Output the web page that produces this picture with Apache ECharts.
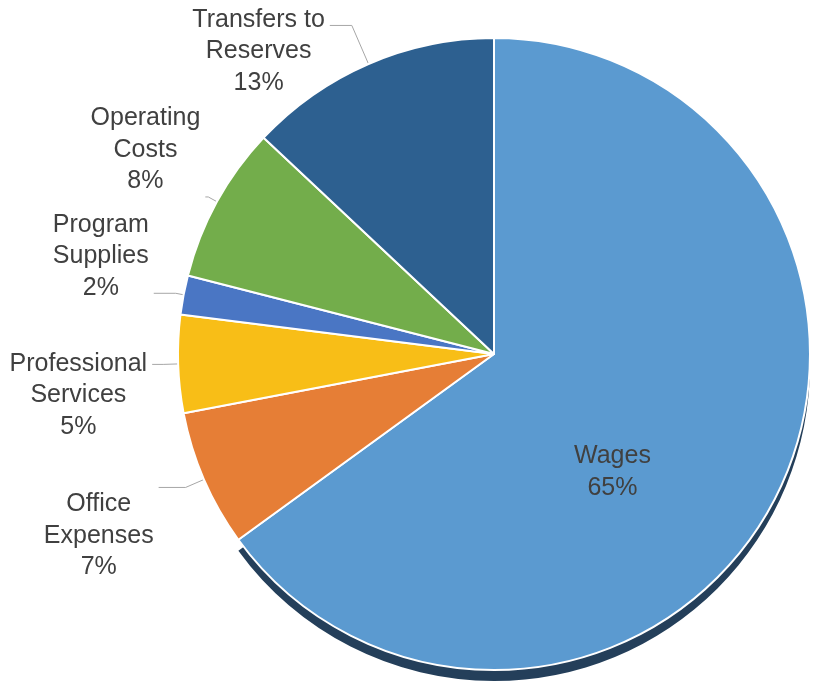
<!DOCTYPE html>
<html>
<head>
<meta charset="utf-8">
<script src="https://cdn.jsdelivr.net/npm/echarts@6/dist/echarts.min.js"></script>
<style>
  html, body { margin: 0; padding: 0; background: #fff; }
  #chart { width: 824px; height: 687px; }
</style>
</head>
<body>
<div id="chart"></div>
<script>
// budget split, clockwise from 12 o'clock
const categories = ['Wages', 'Office\nExpenses', 'Professional\nServices', 'Program\nSupplies', 'Operating\nCosts', 'Transfers to\nReserves']
const shares = [65, 7, 5, 2, 8, 13]
const colors = ['#5B9AD0', '#E67E36', '#F8BE17', '#4A76C4', '#73AD4B', '#2D6090']

// leader line lengths and padding that shifts each label block off its line end
const lineLen = [0, 20, 15, 8, 10, 42]
const lineLen2 = [0, 27, 11, 22, 3, 22]
const labelPad = [0, [97, 0, 0, 0], [62, 0, 0, 0], [0, 0, 74, 0], [0, 0, 94, 0], [52, 0, 0, 0]]

const CENTER = [494, 354]
const RADIUS = 316

const chart = echarts.init(document.getElementById('chart'))

const data = categories.map((name, i) => {
  const item = {
    name: name,
    value: shares[i],
    itemStyle: { color: colors[i] },
    labelLine: { length: lineLen[i], length2: lineLen2[i] },
    label: { padding: labelPad[i] }
  }
  if (i === 0) {
    item.label = { position: 'inside', offset: [-25, 45] }
    item.labelLine = { show: false }
  }
  return item
})

// dark drop shadow under the big slice only
const shadowData = categories.map((name, i) => ({
  name: name,
  value: shares[i],
  itemStyle: { color: i === 0 ? '#243F5A' : 'rgba(0,0,0,0)' }
}))

const option = {
  animation: false,
  series: [
    {
      type: 'pie',
      z: 1,
      silent: true,
      center: [CENTER[0], CENTER[1] + 11],
      radius: RADIUS,
      startAngle: 90,
      clockwise: true,
      label: { show: false },
      labelLine: { show: false },
      data: shadowData
    },
    {
      type: 'pie',
      z: 2,
      center: CENTER,
      radius: RADIUS,
      startAngle: 90,
      clockwise: true,
      avoidLabelOverlap: false,
      labelLayout: { hideOverlap: false },
      itemStyle: {
        borderColor: '#ffffff',
        borderWidth: 2
      },
      label: {
        show: true,
        formatter: p => '{c|' + p.name + '}\n{c|' + p.value + '%}',
        rich: {
          c: {
            align: 'center',
            color: '#404040',
            fontFamily: 'Liberation Sans',
            fontSize: 25,
            lineHeight: 31.5
          }
        }
      },
      labelLine: {
        show: true,
        lineStyle: { color: '#a6a6a6', width: 1 }
      },
      data: data
    }
  ]
}
chart.setOption(option)
</script>
</body>
</html>
